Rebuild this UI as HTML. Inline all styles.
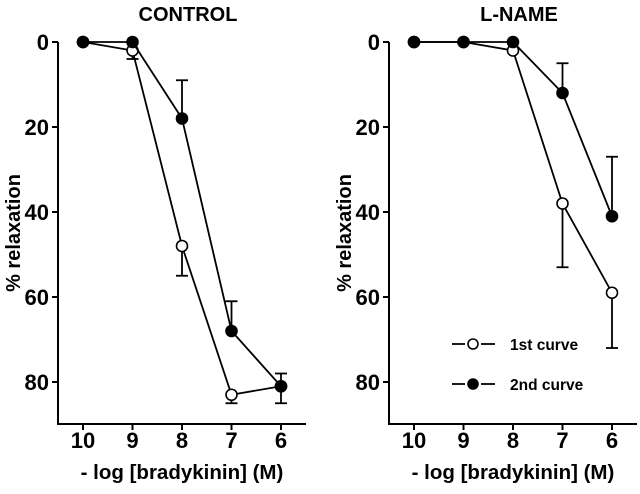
<!DOCTYPE html>
<html><head><meta charset="utf-8"><style>
body{margin:0;background:#fff}
svg text{font-family:"Liberation Sans",Arial,sans-serif;font-weight:bold;fill:#000}
</style></head><body>
<svg id="c" width="640" height="489" viewBox="0 0 640 489" xmlns="http://www.w3.org/2000/svg"></svg>
<script>
const xCats=[10,9,8,7,6];
const yTicks=[0,20,40,60,80];
const ctrlOpen=[0,2,48,83,81];
const ctrlFilled=[0,0,18,68,81];
const ctrlOpenErr=[null,4,55,85,null];
const ctrlFilledErr=[null,null,9,61,[78,85]];
const lnOpen=[0,0,2,38,59];
const lnFilled=[0,0,0,12,41];
const lnOpenErr=[null,null,null,53,72];
const lnFilledErr=[null,null,null,5,27];

const svg=document.getElementById('c');
const NS='http://www.w3.org/2000/svg';
function mk(t,a,p){const e=document.createElementNS(NS,t);for(const k in a)e.setAttribute(k,a[k]);(p||svg).appendChild(e);return e;}
function panel(ax,title,open,filled,openErr,filledErr,legend,key){
  const g=mk('g',{});
  
  
  const x0=ax, xEnd=ax+248, yAxisBottom=424, y0=42;
  const xs=v=>ax+25+(10-v)*49.5;
  const ys=v=>y0+v*4.25;
  const t=mk('text',{x:ax+130,y:21,'font-size':20,'text-anchor':'middle'},g);t.textContent=title;
  
  const ya=mk('line',{x1:x0,y1:y0,x2:x0,y2:yAxisBottom,stroke:'#000','stroke-width':2},g);
  
  const xa=mk('line',{x1:x0-1,y1:yAxisBottom,x2:xEnd,y2:yAxisBottom,stroke:'#000','stroke-width':2},g);
  
  yTicks.forEach(v=>{
    mk('line',{x1:x0-6,y1:ys(v),x2:x0,y2:ys(v),stroke:'#000','stroke-width':2},g);
    const l=mk('text',{x:x0-9,y:ys(v)+8,'font-size':22,'text-anchor':'end'},g);l.textContent=v;
    
  });
  xCats.forEach(v=>{
    mk('line',{x1:xs(v),y1:yAxisBottom,x2:xs(v),y2:yAxisBottom+6,stroke:'#000','stroke-width':2},g);
    const l=mk('text',{x:xs(v),y:yAxisBottom+24,'font-size':22,'text-anchor':'middle'},g);l.textContent=v;
    
  });
  const yl=mk('text',{x:0,y:0,'font-size':20,'text-anchor':'middle',transform:`translate(${ax-38},${233}) rotate(-90)`},g);yl.textContent='% relaxation';
  
  const xl=mk('text',{x:ax+124,y:479,'font-size':20.5,'text-anchor':'middle'},g);xl.textContent='- log [bradykinin] (M)';
  
  function errs(vals,errv){
    errv.forEach((e,i)=>{ if(e==null)return;
      const arr=Array.isArray(e)?e:[e];
      arr.forEach(ev=>{const x=xs(xCats[i]);
        mk('line',{x1:x,y1:ys(vals[i]),x2:x,y2:ys(ev),stroke:'#000','stroke-width':1.8},g);
        mk('line',{x1:x-6,y1:ys(ev),x2:x+6,y2:ys(ev),stroke:'#000','stroke-width':1.8},g);});
    });
  }
  errs(open,openErr);errs(filled,filledErr);
  function series(vals,fill,name){
    const pl=mk('polyline',{points:vals.map((v,i)=>xs(xCats[i])+','+ys(v)).join(' '),fill:'none',stroke:'#000','stroke-width':1.8},g);
    
    vals.forEach((v,i)=>{const c=mk('circle',{cx:xs(xCats[i]),cy:ys(v),r:5.5,fill:fill,stroke:'#000','stroke-width':1.6},g);
      });
  }
  series(open,'#fff','first-curve');series(filled,'#000','second-curve');
  if(legend){
    [['1st curve','#fff',344],['2nd curve','#000',384]].forEach(([lab,f,y])=>{
      const lg=mk('g',{},g);
      
      mk('line',{x1:452,y1:y,x2:465,y2:y,stroke:'#000','stroke-width':1.8},lg);
      mk('line',{x1:481,y1:y,x2:495,y2:y,stroke:'#000','stroke-width':1.8},lg);
      mk('circle',{cx:473,cy:y,r:5,fill:f,stroke:'#000','stroke-width':1.6},lg);
      const tt=mk('text',{x:510,y:y+6,'font-size':15.5},lg);tt.textContent=lab;
    });
  }
}
panel(58,'CONTROL',ctrlOpen,ctrlFilled,ctrlOpenErr,ctrlFilledErr,false,'control');
panel(389,'L-NAME',lnOpen,lnFilled,lnOpenErr,lnFilledErr,true,'lname');
</script>
</body></html>
